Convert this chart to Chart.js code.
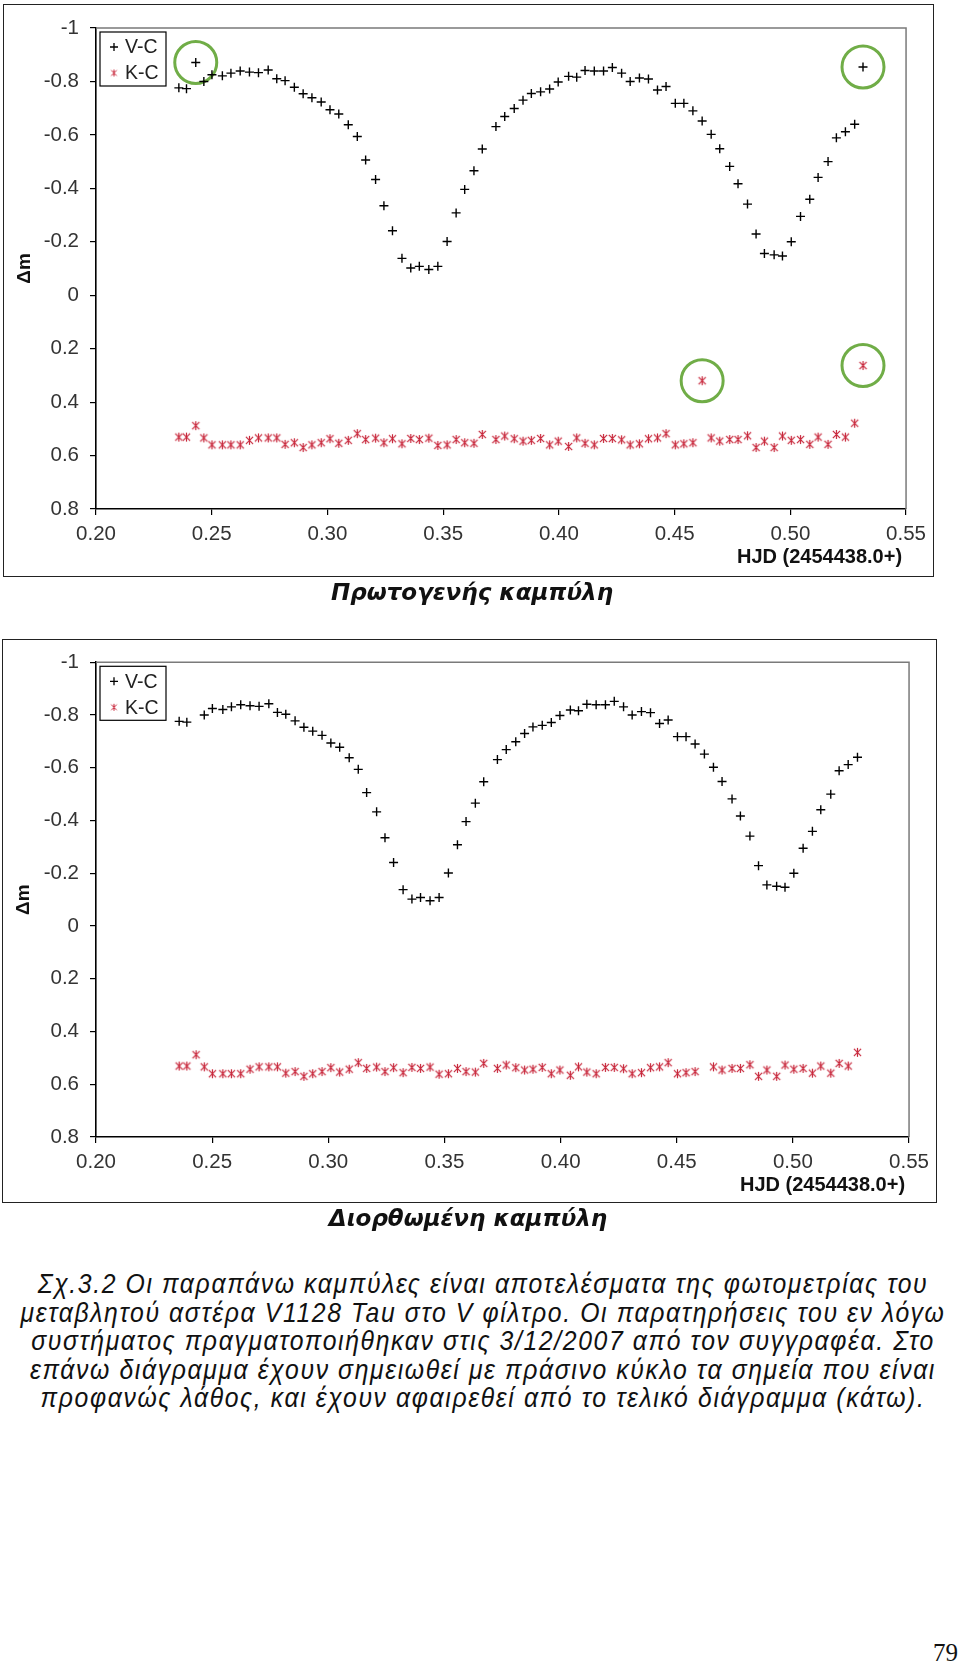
<!DOCTYPE html>
<html>
<head>
<meta charset="utf-8">
<script src="https://cdn.jsdelivr.net/npm/chart.js@4.4.1/dist/chart.umd.min.js"></script>
<style>
  html, body { margin: 0; padding: 0; background: #fff; }
  #page { position: relative; width: 960px; height: 1664px; overflow: hidden; font-family: "Liberation Sans", Arial, sans-serif; color: #111; }
  canvas { position: absolute; }
  .frame { position: absolute; box-sizing: border-box; border: 1.5px solid #222; pointer-events: none; }
  .caption { position: absolute; left: 0; text-align: center; font-family: "DejaVu Sans", sans-serif; font-weight: bold; font-style: italic; font-size: 23px; line-height: 28px; }
  #note { position: absolute; left: -217px; top: 1270px; width: 1400px; text-align: center; white-space: nowrap;
          font-family: "Liberation Sans", Arial, sans-serif; font-style: italic; font-size: 27.5px; line-height: 28.6px;
          letter-spacing: 1.8px; transform: scaleX(0.9); transform-origin: 700px 0; }
  #pageno { position: absolute; right: 2px; top: 1638px; font-family: "Liberation Serif", serif; font-size: 25px; line-height: 30px; }
</style>
</head>
<body>
<div id="page">
  <canvas id="rawChart" width="930" height="572" style="left:3px; top:4px;"></canvas>
  <div class="frame" style="left:3px; top:4px; width:931px; height:573px;"></div>
  <div class="caption" style="top:578px; width:944px;">Πρωτογενής καμπύλη</div>

  <canvas id="fixedChart" width="934" height="563" style="left:2px; top:639px;"></canvas>
  <div class="frame" style="left:2px; top:639px; width:935px; height:564px;"></div>
  <div class="caption" style="top:1204px; width:936px;">Διορθωμένη καμπύλη</div>

  <div id="note">Σχ.3.2 Οι παραπάνω καμπύλες είναι αποτελέσματα της φωτομετρίας του<br>μεταβλητού αστέρα V1128 Tau στο V φίλτρο. Οι παρατηρήσεις του εν λόγω<br>συστήματος πραγματοποιήθηκαν στις 3/12/2007 από τον συγγραφέα. Στο<br>επάνω διάγραμμα έχουν σημειωθεί με πράσινο κύκλο τα σημεία που είναι<br>προφανώς λάθος, και έχουν αφαιρεθεί από το τελικό διάγραμμα (κάτω).</div>
  <div id="pageno">79</div>
</div>

<script>
// HJD - 2454438.0
const hjd = [
  0.2358, 0.2391, 0.2431, 0.2466, 0.2501, 0.2546, 0.2583, 0.2623, 0.2663, 0.2702,
  0.2744, 0.2781, 0.2817, 0.2857, 0.2895, 0.2933, 0.2973, 0.3011, 0.3049, 0.3090,
  0.3129, 0.3165, 0.3208, 0.3244, 0.3281, 0.3322, 0.3360, 0.3397, 0.3438, 0.3477,
  0.3517, 0.3556, 0.3593, 0.3633, 0.3669, 0.3728, 0.3766, 0.3807, 0.3845, 0.3881,
  0.3921, 0.3960, 0.3997, 0.4042, 0.4077, 0.4113, 0.4153, 0.4193, 0.4231, 0.4271,
  0.4308, 0.4348, 0.4387, 0.4426, 0.4463, 0.4503, 0.4540, 0.4579, 0.4619, 0.4658,
  0.4695, 0.4738, 0.4774, 0.4815, 0.4852, 0.4888, 0.4930, 0.4966, 0.5004, 0.5044,
  0.5084, 0.5120, 0.5163, 0.5199, 0.5238, 0.5278, 0.5314
];
const vc = [
  -0.776, -0.773, -0.871, -0.800, -0.825, -0.821, -0.831, -0.839, -0.835, -0.833,
  -0.843, -0.810, -0.803, -0.778, -0.754, -0.739, -0.723, -0.694, -0.678, -0.638,
  -0.594, -0.506, -0.433, -0.335, -0.241, -0.138, -0.102, -0.108, -0.096, -0.108,
  -0.201, -0.308, -0.396, -0.466, -0.547, -0.631, -0.669, -0.699, -0.730, -0.755,
  -0.761, -0.772, -0.798, -0.819, -0.816, -0.841, -0.839, -0.839, -0.852, -0.831,
  -0.800, -0.813, -0.809, -0.768, -0.781, -0.718, -0.718, -0.690, -0.652, -0.602,
  -0.548, -0.482, -0.417, -0.341, -0.229, -0.156, -0.151, -0.147, -0.200, -0.295,
  -0.359, -0.441, -0.500, -0.589, -0.612, -0.640, -0.854
];
const kc = [
  0.531, 0.531, 0.488, 0.534, 0.560, 0.560, 0.560, 0.560, 0.543, 0.534,
  0.534, 0.534, 0.558, 0.552, 0.570, 0.560, 0.552, 0.537, 0.554, 0.543,
  0.518, 0.540, 0.535, 0.552, 0.537, 0.556, 0.536, 0.540, 0.535, 0.562,
  0.560, 0.540, 0.552, 0.554, 0.521, 0.540, 0.527, 0.537, 0.546, 0.543,
  0.536, 0.560, 0.546, 0.566, 0.534, 0.554, 0.560, 0.536, 0.536, 0.541,
  0.560, 0.556, 0.537, 0.534, 0.518, 0.560, 0.556, 0.552, 0.320, 0.534,
  0.546, 0.540, 0.540, 0.526, 0.570, 0.546, 0.570, 0.527, 0.543, 0.540,
  0.558, 0.531, 0.558, 0.521, 0.531, 0.479, 0.263
];
// indexes of the bad points (green circles), dropped from the corrected curve
const vcBad = [2, 76];
const kcBad = [58, 76];

const xTicks = [0.20, 0.25, 0.30, 0.35, 0.40, 0.45, 0.50, 0.55];
const xTickLabels = ['0.20', '0.25', '0.30', '0.35', '0.40', '0.45', '0.50', '0.55'];
const yTicks = [-1, -0.8, -0.6, -0.4, -0.2, 0, 0.2, 0.4, 0.6, 0.8];
const yTickLabels = ['-1', '-0.8', '-0.6', '-0.4', '-0.2', '0', '0.2', '0.4', '0.6', '0.8'];

const FONT = '"Liberation Sans", Arial, sans-serif';
Chart.defaults.font.family = FONT;
Chart.defaults.color = '#333';

function asterisk(size, color, lw) {
  const c = document.createElement('canvas');
  c.width = c.height = size;
  const g = c.getContext('2d');
  const m = size / 2, r = size / 2 - 1, d = r * 0.8;
  g.strokeStyle = color;
  g.lineWidth = lw;
  g.beginPath();
  g.moveTo(m, m - r); g.lineTo(m, m + r);
  g.moveTo(m - d, m - d); g.lineTo(m + d, m + d);
  g.moveTo(m + d, m - d); g.lineTo(m - d, m + d);
  g.stroke();
  return c;
}
const starImg = asterisk(11, '#c8283c', 1.2);
const starSmall = asterisk(9, '#c8283c', 1);

const pts = (ys, skip) => hjd.map((x, i) => ({ x, y: ys[i] })).filter((p, i) => !skip.includes(i));
const badPts = (ys, idx) => idx.map(i => ({ x: hjd[i], y: ys[i] }));

// gray top/right edge of the plot area
const plotFrame = {
  id: 'plotFrame',
  beforeDatasetsDraw(chart) {
    const { ctx, chartArea: a } = chart;
    ctx.save();
    ctx.strokeStyle = '#7a7a7a';
    ctx.lineWidth = 1.5;
    ctx.beginPath();
    ctx.moveTo(a.left, a.top);
    ctx.lineTo(a.right, a.top);
    ctx.lineTo(a.right, a.bottom);
    ctx.stroke();
    ctx.restore();
  }
};

// boxed legend in the top-left corner + HJD label
const boxLegend = {
  id: 'boxLegend',
  afterDraw(chart) {
    const { ctx, chartArea: a } = chart;
    const x = a.left + 4, y = a.top + 4;
    ctx.save();
    ctx.fillStyle = '#fff';
    ctx.fillRect(x, y, 66, 54);
    ctx.strokeStyle = '#000';
    ctx.lineWidth = 1.2;
    ctx.strokeRect(x, y, 66, 54);
    ctx.font = '19.5px ' + FONT;
    ctx.textBaseline = 'middle';
    ctx.fillStyle = '#222';
    // V-C
    let cy = y + 15;
    ctx.strokeStyle = '#000';
    ctx.lineWidth = 1.3;
    ctx.beginPath();
    ctx.moveTo(x + 10, cy); ctx.lineTo(x + 18, cy);
    ctx.moveTo(x + 14, cy - 4); ctx.lineTo(x + 14, cy + 4);
    ctx.stroke();
    ctx.fillText(chart.data.datasets[0].label, x + 25, cy + 1);
    // K-C
    cy = y + 41;
    ctx.drawImage(starSmall, x + 14 - 4.5, cy - 4.5);
    ctx.fillText(chart.data.datasets[1].label, x + 25, cy + 1);

    ctx.font = 'bold 20px ' + FONT;
    ctx.textAlign = 'right';
    ctx.fillStyle = '#111';
    ctx.fillText('HJD (2454438.0+)', a.right - 4, a.bottom + 48);
    ctx.restore();
  }
};

function makeChart(id, lay, vcSkip, kcSkip, circled) {
  const datasets = [
    { label: 'V-C', data: pts(vc, vcSkip), pointStyle: 'cross', pointRadius: 4.5,
      borderColor: '#000', borderWidth: 1.4, backgroundColor: '#000' },
    { label: 'K-C', data: pts(kc, kcSkip), pointStyle: starImg, pointRadius: 5 }
  ];
  if (circled) {
    datasets.push({ label: '', data: badPts(vc, vcBad).concat(badPts(kc, kcBad)),
      pointStyle: 'circle', pointRadius: 21, backgroundColor: 'rgba(0,0,0,0)',
      borderColor: '#70ad47', borderWidth: 3 });
  }
  return new Chart(document.getElementById(id), {
    type: 'scatter',
    data: { datasets },
    plugins: [plotFrame, boxLegend],
    options: {
      responsive: false,
      animation: false,
      layout: { padding: { left: 0, top: lay.top, right: lay.right, bottom: 0 } },
      plugins: { legend: { display: false }, tooltip: { enabled: false } },
      scales: {
        x: {
          type: 'linear', min: 0.2, max: 0.55,
          afterBuildTicks: s => { s.ticks = xTicks.map(v => ({ value: v })); },
          afterFit: s => { s.height = lay.bottom; },
          ticks: { callback: (v, i) => xTickLabels[i], font: { size: 20.5 }, padding: 7, maxRotation: 0, autoSkip: false },
          grid: { drawOnChartArea: false, drawTicks: true, tickLength: 6, color: '#000', lineWidth: 1.2 },
          border: { display: true, color: '#000', width: 1.6 }
        },
        y: {
          type: 'linear', min: -1, max: 0.8, reverse: true,
          afterBuildTicks: s => { s.ticks = yTicks.map(v => ({ value: v })); },
          afterFit: s => { s.width = lay.left; },
          ticks: { callback: (v, i) => yTickLabels[i], font: { size: 20.5 }, padding: 11, autoSkip: false },
          grid: { drawOnChartArea: false, drawTicks: true, tickLength: 6, color: '#000', lineWidth: 1.2 },
          border: { display: true, color: '#000', width: 1.6 },
          title: { display: true, text: 'Δm', color: '#111', font: { size: 19, weight: 'bold' }, padding: { top: 10, bottom: 0 } }
        }
      }
    }
  });
}

makeChart('rawChart', { left: 93, top: 15, right: 23, bottom: 67 }, [], [], true);
makeChart('fixedChart', { left: 94, top: 18, right: 24, bottom: 65 }, vcBad, kcBad, false);
</script>
</body>
</html>
